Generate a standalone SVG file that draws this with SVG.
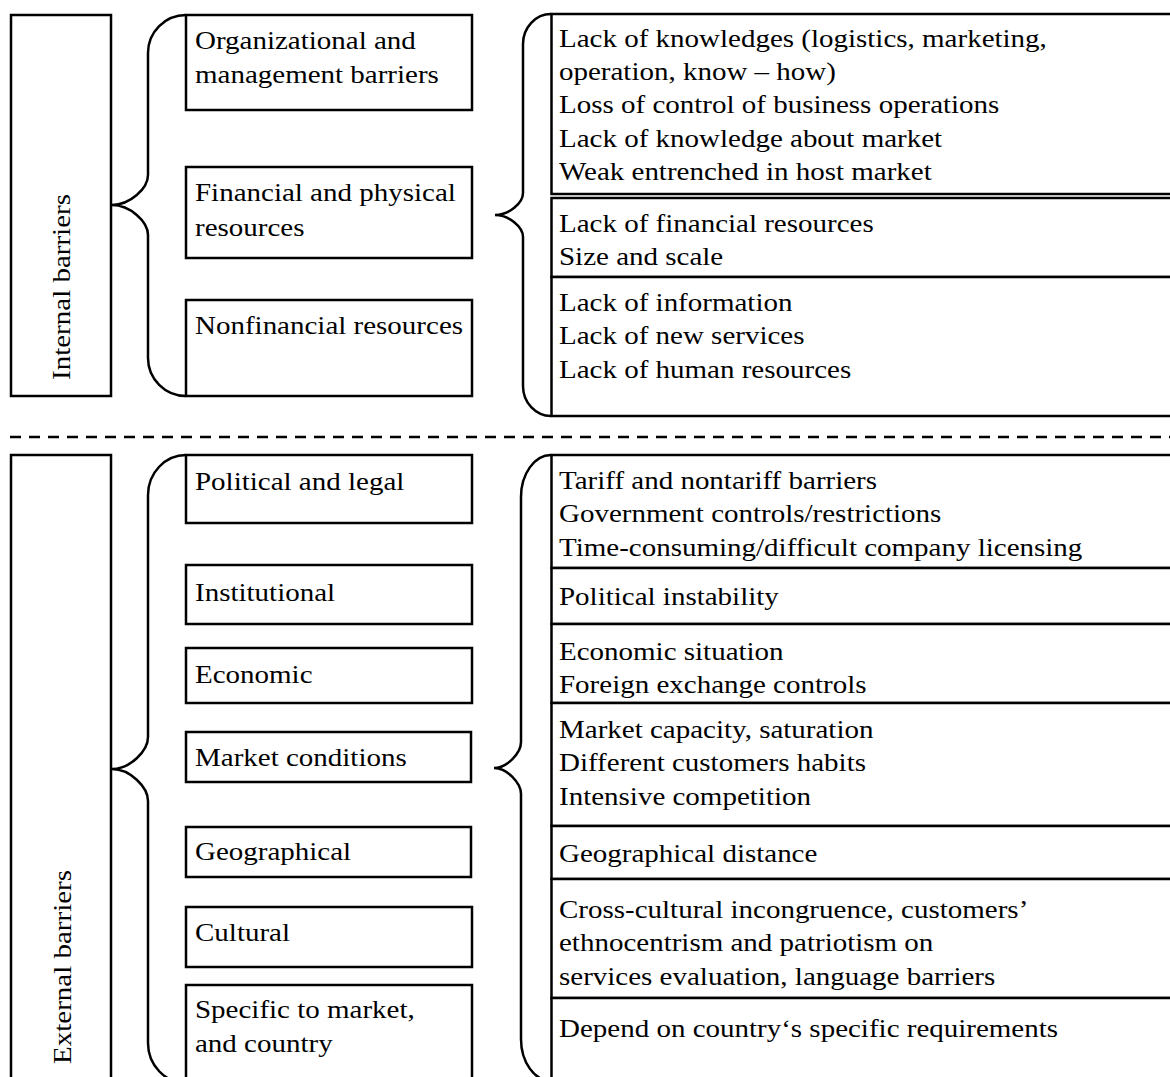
<svg xmlns="http://www.w3.org/2000/svg" width="1170" height="1077" viewBox="0 0 1170 1077">
<style>
.b{fill:#fff;stroke:#000;stroke-width:2.5}
.br{fill:none;stroke:#000;stroke-width:2.5}
.t{font-family:"Liberation Serif","Times New Roman",serif;font-size:25px;fill:#000}
</style>
<rect width="1170" height="1077" fill="#fff"/>
<g id="connectors">
<path class="br" d="M186,15 C165.1,15 148,32.1 148,53 L148,175 C148,188.5 130,205 112,205 C130,205 148,221.5 148,235 L148,358 C148,378.9 165.1,396 186,396"/>
<path class="br" d="M551,14 C535.6,14 523,27.5 523,44 L523,193 C523,203 509,215 495,215 C509,215 523,227 523,237 L523,386 C523,402.5 535.6,416 551,416"/>
<path class="br" d="M186,455 C165.1,455 148,473 148,495 L148,737 C148,751 130,769 112,769 C130,769 148,787 148,801 L148,1043 C148,1065 165.1,1083 186,1083"/>
<path class="br" d="M551,455 C534.5,455 521,474 521,497 L521,742 C521,753 507,768 494,768 C507,768 521,783 521,794 L521,1039 C521,1062 534.5,1081 551,1081"/>
</g>
<line x1="10" y1="437" x2="1170" y2="437" stroke="#000" stroke-width="2.5" stroke-dasharray="11 8"/>

<g id="internal-barriers">
<rect class="b" x="11" y="15" width="100" height="381"/>
<text class="t" text-anchor="middle" transform="translate(70,287) rotate(-90) scale(1.16 1)">Internal barriers</text>
</g>
<g id="org-management">
<rect class="b" x="186" y="15" width="286" height="95"/>
<text class="t" transform="translate(195,49) scale(1.16 1)"><tspan x="0" y="0">Organizational and</tspan><tspan x="0" y="34">management barriers</tspan></text>
</g>
<g id="financial-physical">
<rect class="b" x="186" y="167" width="286" height="91"/>
<text class="t" transform="translate(195,201) scale(1.16 1)"><tspan x="0" y="0">Financial and physical</tspan><tspan x="0" y="35">resources</tspan></text>
</g>
<g id="nonfinancial">
<rect class="b" x="186" y="300" width="286" height="96"/>
<text class="t" transform="translate(195,334) scale(1.16 1)">Nonfinancial resources</text>
</g>

<g id="int-detail-1">
<rect class="b" x="551.5" y="14" width="640" height="180"/>
<text class="t" transform="translate(559,47) scale(1.16 1)"><tspan x="0" y="0">Lack of knowledges (logistics, marketing,</tspan><tspan x="0" y="33">operation, know – how)</tspan><tspan x="0" y="66">Loss of control of business operations</tspan><tspan x="0" y="100">Lack of knowledge about market</tspan><tspan x="0" y="133.5">Weak entrenched in host market</tspan></text>
</g>
<g id="int-detail-2">
<rect class="b" x="551.5" y="198" width="640" height="79"/>
<text class="t" transform="translate(559,232) scale(1.16 1)"><tspan x="0" y="0">Lack of financial resources</tspan><tspan x="0" y="33">Size and scale</tspan></text>
</g>
<g id="int-detail-3">
<rect class="b" x="551.5" y="277" width="640" height="139"/>
<text class="t" transform="translate(559,311) scale(1.16 1)"><tspan x="0" y="0">Lack of information</tspan><tspan x="0" y="33">Lack of new services</tspan><tspan x="0" y="67">Lack of human resources</tspan></text>
</g>

<g id="external-barriers">
<rect class="b" x="11" y="455" width="100" height="640"/>
<text class="t" text-anchor="middle" transform="translate(71,967) rotate(-90) scale(1.16 1)">External barriers</text>
</g>
<g id="political-legal">
<rect class="b" x="186" y="455" width="286" height="68"/>
<text class="t" transform="translate(195,490) scale(1.16 1)">Political and legal</text>
</g>
<g id="institutional">
<rect class="b" x="186" y="565" width="286" height="59"/>
<text class="t" transform="translate(195,601) scale(1.16 1)">Institutional</text>
</g>
<g id="economic">
<rect class="b" x="186" y="648" width="286" height="55"/>
<text class="t" transform="translate(195,683) scale(1.16 1)">Economic</text>
</g>
<g id="market-conditions">
<rect class="b" x="186" y="732" width="285" height="50"/>
<text class="t" transform="translate(195,766) scale(1.16 1)">Market conditions</text>
</g>
<g id="geographical">
<rect class="b" x="186" y="827" width="285" height="50"/>
<text class="t" transform="translate(195,860) scale(1.16 1)">Geographical</text>
</g>
<g id="cultural">
<rect class="b" x="186" y="907" width="286" height="60"/>
<text class="t" transform="translate(195,941) scale(1.16 1)">Cultural</text>
</g>
<g id="specific">
<rect class="b" x="186" y="985" width="286" height="110"/>
<text class="t" transform="translate(195,1018) scale(1.16 1)"><tspan x="0" y="0">Specific to market,</tspan><tspan x="0" y="34">and country</tspan></text>
</g>

<g id="ext-detail-1">
<rect class="b" x="551.5" y="455" width="640" height="113"/>
<text class="t" transform="translate(559,489) scale(1.16 1)"><tspan x="0" y="0">Tariff and nontariff barriers</tspan><tspan x="0" y="33">Government controls/restrictions</tspan><tspan x="0" y="67">Time-consuming/difficult company licensing</tspan></text>
</g>
<g id="ext-detail-2">
<rect class="b" x="551.5" y="568" width="640" height="56"/>
<text class="t" transform="translate(559,605) scale(1.16 1)">Political instability</text>
</g>
<g id="ext-detail-3">
<rect class="b" x="551.5" y="624" width="640" height="79"/>
<text class="t" transform="translate(559,660) scale(1.16 1)"><tspan x="0" y="0">Economic situation</tspan><tspan x="0" y="33">Foreign exchange controls</tspan></text>
</g>
<g id="ext-detail-4">
<rect class="b" x="551.5" y="703" width="640" height="123"/>
<text class="t" transform="translate(559,738) scale(1.16 1)"><tspan x="0" y="0">Market capacity, saturation</tspan><tspan x="0" y="33">Different customers habits</tspan><tspan x="0" y="67">Intensive competition</tspan></text>
</g>
<g id="ext-detail-5">
<rect class="b" x="551.5" y="826" width="640" height="53"/>
<text class="t" transform="translate(559,862) scale(1.16 1)">Geographical distance</text>
</g>
<g id="ext-detail-6">
<rect class="b" x="551.5" y="879" width="640" height="119"/>
<text class="t" transform="translate(559,918) scale(1.16 1)"><tspan x="0" y="0">Cross-cultural incongruence, customers’</tspan><tspan x="0" y="33">ethnocentrism and patriotism on</tspan><tspan x="0" y="67">services evaluation, language barriers</tspan></text>
</g>
<g id="ext-detail-7">
<rect class="b" x="551.5" y="998" width="640" height="100"/>
<text class="t" transform="translate(559,1037) scale(1.16 1)">Depend on country‘s specific requirements</text>
</g>
</svg>
